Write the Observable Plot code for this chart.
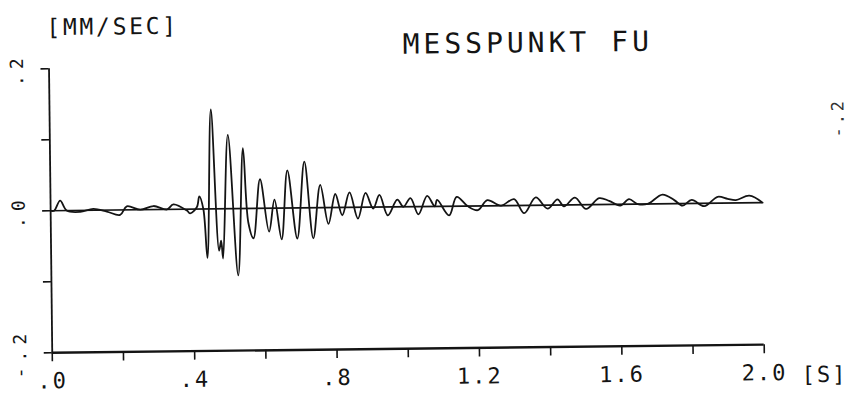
<!DOCTYPE html>
<html>
<head>
<meta charset="utf-8">
<script src="https://cdn.jsdelivr.net/npm/d3@7"></script>
<script src="https://cdn.jsdelivr.net/npm/@observablehq/plot@0.6"></script>
<style>
  html, body { margin: 0; padding: 0; background: #fff; }
  #chart svg { display: block; }
  g[font-size="28"] { letter-spacing: 4px; }
  g[font-size="23"] { letter-spacing: 2.7px; }
  g[font-size="22"] { letter-spacing: 2px; }
  g[font-size="18"] { letter-spacing: 6px; }
  g[font-size="17"] { letter-spacing: 3px; }
</style>
</head>
<body>
<div id="chart"></div>
<script>
// ---- data ----
const times = [0, 0.010, 0.027, 0.045, 0.083, 0.120, 0.158, 0.195, 0.214, 0.252, 0.289, 0.327, 0.345, 0.383, 0.392, 0.411, 0.418, 0.429, 0.439, 0.453, 0.472, 0.478, 0.483, 0.500, 0.525, 0.542, 0.555, 0.569, 0.589, 0.613, 0.629, 0.648, 0.666, 0.692, 0.714, 0.737, 0.758, 0.780, 0.800, 0.819, 0.840, 0.863, 0.885, 0.906, 0.924, 0.947, 0.974, 0.991, 1.011, 1.033, 1.058, 1.079, 1.086, 1.119, 1.141, 1.171, 1.200, 1.227, 1.265, 1.302, 1.330, 1.363, 1.396, 1.424, 1.442, 1.473, 1.504, 1.541, 1.569, 1.600, 1.625, 1.649, 1.677, 1.719, 1.752, 1.775, 1.801, 1.836, 1.874, 1.902, 1.925, 1.963, 2.000];
const velocity = [0, 0.000, 0.014, 0.000, -0.002, 0.002, -0.002, -0.007, 0.005, 0.000, 0.005, 0.000, 0.007, -0.002, -0.006, 0.003, 0.018, 0.000, -0.069, 0.140, -0.059, -0.045, -0.070, 0.104, -0.094, 0.085, -0.020, -0.042, 0.041, -0.033, 0.012, -0.044, 0.053, -0.043, 0.065, -0.043, 0.032, -0.023, 0.019, -0.011, 0.021, -0.016, 0.020, -0.002, 0.017, -0.012, 0.010, 0.000, 0.012, -0.011, 0.015, 0.000, 0.009, -0.013, 0.013, 0.000, -0.006, 0.008, 0.000, 0.009, -0.011, 0.011, -0.005, 0.008, -0.002, 0.010, -0.006, 0.009, 0.005, -0.002, 0.007, 0.000, 0.000, 0.013, 0.005, -0.003, 0.005, -0.004, 0.009, 0.006, 0.004, 0.010, 0.000];

const xTickValues = [0, 0.2, 0.4, 0.6, 0.8, 1.0, 1.2, 1.4, 1.6, 1.8, 2.0];
const xLabelValues = [0, 0.4, 0.8, 1.2, 1.6, 2.0];
const xLabelTexts = [".0", ".4", ".8", "1.2", "1.6", "2.0"];
const yTickValues = [-0.2, -0.1, 0, 0.1, 0.2];
const yLabelValues = [0.2, 0, -0.2];
const yLabelTexts = [".2", ".0", "-.2"];
const titleText = "MESSPUNKT FU";
const yUnitText = "[MM/SEC]";
const xUnitText = "[S]";
const strayText = "-.2";

const signal = times.map((t, i) => ({t, v: velocity[i]}));
const ink = "#141414";

const chart = Plot.plot({
  width: 849,
  height: 393,
  marginLeft: 50,
  marginRight: 87,
  marginTop: 64,
  marginBottom: 45,
  style: {fontFamily: "'DejaVu Sans Mono', monospace", color: ink, background: "#fff"},
  x: {domain: [0, 2], label: null},
  y: {domain: [-0.2, 0.2], label: null},
  marks: [
    Plot.ruleY([0], {stroke: ink, strokeWidth: 1.7}),
    Plot.line(signal, {x: "t", y: "v", curve: "catmull-rom", stroke: ink, strokeWidth: 1.8}),
    Plot.ruleX([0], {stroke: ink, strokeWidth: 1.8}),
    Plot.ruleY([-0.2], {stroke: ink, strokeWidth: 2.4}),
    Plot.axisX({
      ticks: xTickValues, tickSize: 9, tickPadding: 11, fontSize: 22, label: null,
      strokeWidth: 1.6, stroke: ink, fill: ink,
      tickFormat: d => { const k = xLabelValues.indexOf(d); return k >= 0 ? xLabelTexts[k] : ""; }
    }),
    Plot.axisY({
      ticks: yTickValues, tickSize: 8, strokeWidth: 1.6, stroke: ink, label: null,
      tickFormat: () => ""
    }),
    Plot.text(yLabelValues, {
      y: d => d, frameAnchor: "left", dx: -26,
      text: (d, i) => yLabelTexts[i],
      rotate: -90, textAnchor: "middle", lineAnchor: "bottom",
      fontSize: 18, fill: ink
    }),
    Plot.text([titleText], {
      frameAnchor: "top-left", dx: 479, dy: -20,
      textAnchor: "middle", lineAnchor: "middle", fontSize: 28, fill: ink
    }),
    Plot.text([yUnitText], {
      frameAnchor: "top-left", dx: 64, dy: -41,
      textAnchor: "middle", lineAnchor: "middle", fontSize: 23, fill: ink
    }),
    Plot.text([xUnitText], {
      frameAnchor: "bottom-right", dx: 60, dy: 31,
      textAnchor: "middle", lineAnchor: "middle", fontSize: 22, fill: ink
    }),
    Plot.text([strayText], {
      frameAnchor: "top-right", dx: 82, dy: 58,
      rotate: -90, textAnchor: "middle", lineAnchor: "bottom",
      fontSize: 17, fill: "#333"
    })
  ]
});
chart.style.transform = "rotate(-0.65deg)";
chart.style.transformOrigin = "424.5px 196.5px";
document.getElementById("chart").appendChild(chart);
</script>
</body>
</html>
